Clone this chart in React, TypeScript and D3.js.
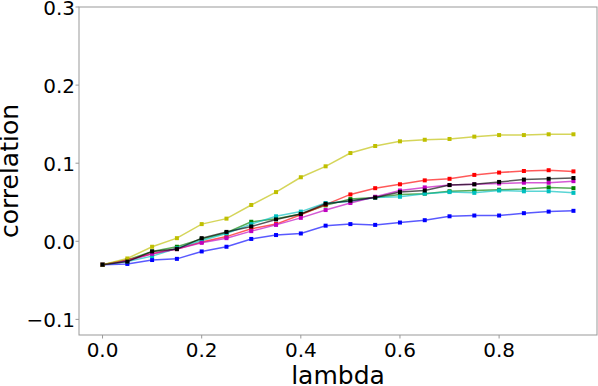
import React from 'react';
import * as d3 from 'd3';

// lambda values on the x axis
const lambdas = [0.0, 0.05, 0.1, 0.15, 0.2, 0.25, 0.3, 0.35, 0.4, 0.45, 0.5, 0.55, 0.6, 0.65, 0.7, 0.75, 0.8, 0.85, 0.9, 0.95];

// correlation per run (matplotlib colour letters)
const blueRun = [-0.030, -0.029, -0.024, -0.0225, -0.013, -0.007, 0.003, 0.008, 0.010, 0.020, 0.022, 0.021, 0.024, 0.027, 0.032, 0.033, 0.033, 0.036, 0.038, 0.039];
const greenRun = [-0.030, -0.024, -0.013, -0.007, 0.003, 0.011, 0.025, 0.029, 0.035, 0.046, 0.054, 0.056, 0.060, 0.061, 0.064, 0.065, 0.066, 0.067, 0.069, 0.068];
const redRun = [-0.030, -0.024, -0.016, -0.010, -0.001, 0.006, 0.016, 0.022, 0.034, 0.047, 0.060, 0.068, 0.073, 0.078, 0.080, 0.085, 0.088, 0.090, 0.091, 0.0895];
const cyanRun = [-0.030, -0.026, -0.019, -0.009, 0.001, 0.010, 0.022, 0.032, 0.038, 0.049, 0.051, 0.056, 0.057, 0.061, 0.063, 0.062, 0.065, 0.064, 0.064, 0.062];
const magentaRun = [-0.030, -0.025, -0.016, -0.010, -0.002, 0.004, 0.013, 0.021, 0.030, 0.040, 0.049, 0.057, 0.065, 0.069, 0.072, 0.073, 0.074, 0.075, 0.075, 0.077];
const yellowRun = [-0.030, -0.022, -0.007, 0.004, 0.022, 0.029, 0.0465, 0.063, 0.082, 0.096, 0.113, 0.122, 0.128, 0.130, 0.131, 0.134, 0.136, 0.136, 0.137, 0.137];
const blackRun = [-0.030, -0.026, -0.013, -0.010, 0.004, 0.012, 0.019, 0.028, 0.035, 0.048, 0.052, 0.056, 0.063, 0.065, 0.072, 0.073, 0.076, 0.079, 0.080, 0.081];

const runs = [
    { color: '#0000ff', values: blueRun },
    { color: '#008000', values: greenRun },
    { color: '#ff0000', values: redRun },
    { color: '#00bfbf', values: cyanRun },
    { color: '#bf00bf', values: magentaRun },
    { color: '#bfbf00', values: yellowRun },
    { color: '#000000', values: blackRun },
];

const xTicks = [0.0, 0.2, 0.4, 0.6, 0.8];
const yTicks = [-0.1, 0.0, 0.1, 0.2, 0.3];

const width = 598;
const height = 386;
const margin = { top: 7, right: 1, bottom: 51, left: 79 };

const App = () => {
    const x = d3.scaleLinear()
        .domain([-0.0475, 0.9975])
        .range([margin.left, width - margin.right]);
    const y = d3.scaleLinear()
        .domain([-0.12, 0.3])
        .range([height - margin.bottom, margin.top]);

    const line = d3.line<number>()
        .x((d, i) => x(lambdas[i]))
        .y(d => y(d));

    const fmt = d3.format('.1f');
    const font = 'DejaVu Sans';

    return (
        <div style={{ position: 'fixed', top: 0, left: 0 }}>
            <svg width={width} height={height} style={{ display: 'block', background: '#fff' }}>
                {runs.map((r, k) => (
                    <g key={k}>
                        <path d={line(r.values) || ''} fill="none" stroke={r.color} strokeWidth={1.5} strokeOpacity={0.65} />
                        {r.values.map((v, i) => (
                            <rect key={i} x={x(lambdas[i]) - 2} y={y(v) - 2} width={4} height={4} fill={r.color} />
                        ))}
                    </g>
                ))}

                {/* frame */}
                <rect x={margin.left} y={margin.top}
                    width={width - margin.left - margin.right}
                    height={height - margin.top - margin.bottom}
                    fill="none" stroke="#999" strokeWidth={1} />

                {/* x ticks */}
                {xTicks.map(t => (
                    <g key={t}>
                        <line x1={x(t)} x2={x(t)} y1={height - margin.bottom} y2={height - margin.bottom + 3.5} stroke="#999" />
                        <text x={x(t)} y={357} textAnchor="middle" fontFamily={font} fontSize={20} fill="#000">{fmt(t)}</text>
                    </g>
                ))}

                {/* y ticks */}
                {yTicks.map(t => (
                    <g key={t}>
                        <line x1={margin.left - 3.5} x2={margin.left} y1={y(t)} y2={y(t)} stroke="#999" />
                        <text x={margin.left - 4} y={y(t) + 7.5} textAnchor="end" fontFamily={font} fontSize={20} fill="#000">{fmt(t)}</text>
                    </g>
                ))}

                <text x={(margin.left + width - margin.right) / 2} y={384} textAnchor="middle" fontFamily={font} fontSize={25} fill="#000">lambda</text>
                <text transform={`translate(18, ${(margin.top + height - margin.bottom) / 2}) rotate(-90)`} textAnchor="middle" fontFamily={font} fontSize={25} fill="#000">correlation</text>
            </svg>
        </div>
    );
};

export default App;
